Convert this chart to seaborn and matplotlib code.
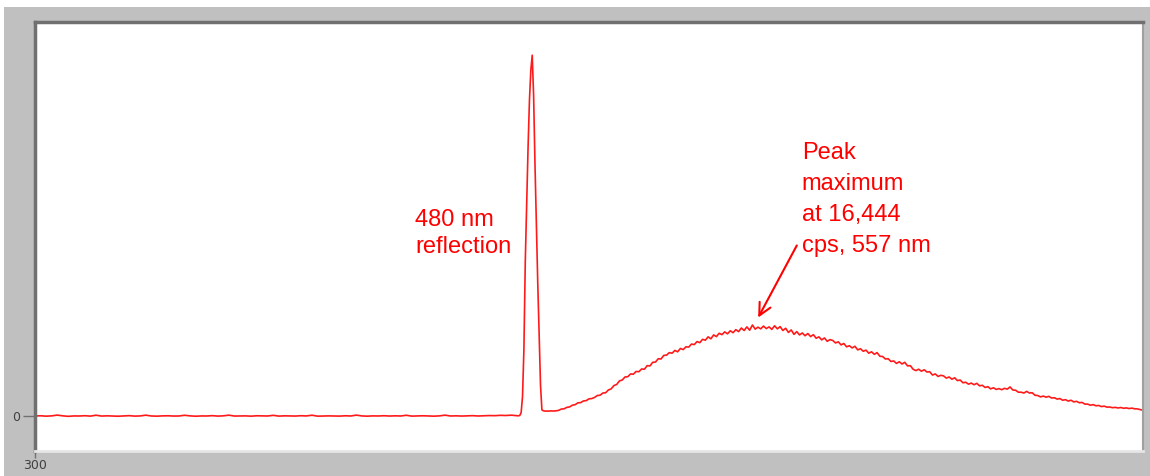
import numpy as np
import pandas as pd
import matplotlib
matplotlib.use("Agg")
import matplotlib.pyplot as plt
from matplotlib.patches import Rectangle
import seaborn as sns

# ---------------- data ----------------
# wavelength grids (nm)
wl_baseline = np.arange(300, 474, 2)          # 300 .. 472
wl_peak = np.arange(474, 486.5, 0.5)          # 474 .. 486
wl_broad = np.arange(487, 701, 1)             # 487 .. 700

# intensities (cps)
cps_baseline = [
    0, 40, -30, 20, 160, 30, -60, 10, 0, 50,
    -20, 140, -10, 30, 0, -40, 20, 60, -20, 10,
    150, 0, -30, 20, 40, -10, 0, 130, 20, -40,
    10, 0, 60, -20, 30, 150, -10, 0, 20, -30,
    40, 10, 0, 120, -20, 30, 0, -10, 50, 10,
    140, -30, 0, 20, 10, -20, 40, 0, 160, 10,
    -30, 20, 0, 50, -10, 30, 0, 130, -20, 10,
    40, 0, -30, 20, 150, 0, 30, -10, 20, 60,
    0, 40, 80, 60, 120, 90, 150,
]
cps_peak = [
    60, 30, 100, 600, 3500, 12000, 28000, 38500, 48500, 57000,
    62500, 65200, 58000, 45500, 34500, 24000, 15000, 5500, 1100, 950,
    900, 880, 900, 880, 920,
]
cps_broad = [
    900,
    930, 1010, 1250, 1300, 1560, 1640, 1950, 2050, 2380, 2420,
    2720, 2780, 3100, 3150, 3350, 3700, 3760, 4150, 4200, 4700,
    4900, 5500, 5700, 6350, 6500, 7050, 7100, 7600, 7550, 8050,
    8000, 8500, 8450, 9100, 9050, 9700, 9750, 10350, 10300, 10950,
    11000, 11450, 11350, 11850, 11600, 12200, 12000, 12500, 12450, 13000,
    12900, 13450, 13250, 13850, 13700, 14300, 13950, 14650, 14350, 14950,
    14700, 15200, 14850, 15400, 15050, 15600, 15250, 15900, 15450, 16100,
    15500, 16444, 15700, 16050, 15750, 16250, 15800, 16100, 15650, 16300,
    15750, 16150, 15450, 15850, 15100, 15550, 14750, 15250, 14650, 15000,
    14500, 14900, 14350, 14700, 14050, 14300, 13750, 14100, 13500, 13800,
    13650, 13200, 13400, 12850, 13100, 12500, 12700, 12300, 12600, 11950,
    12150, 11700, 11900, 11350, 11600, 11150, 11450, 10800, 10750, 10300,
    10350, 9850, 9950, 9500, 9800, 9400, 9700, 9050, 9100, 8450,
    8200, 8450, 8100, 8350, 7950, 8000, 7400, 7600, 7150, 7350,
    7250, 6850, 7050, 6650, 6900, 6400, 6500, 6000, 6100, 5750,
    5950, 5650, 5900, 5450, 5550, 5150, 5300, 4900, 5100, 4800,
    4950, 4750, 5000, 4850, 5250, 4700, 4650, 4300, 4300, 4150,
    4450, 4150, 4200, 3750, 3700, 3450, 3600, 3400, 3550, 3250,
    3300, 3050, 3150, 2850, 2950, 2700, 2850, 2550, 2650, 2400,
    2450, 2150, 2150, 1950, 2050, 1850, 1900, 1700, 1780, 1600,
    1620, 1500, 1560, 1450, 1530, 1400, 1460, 1350, 1420, 1300,
    1280, 1150, 1050,
]

x_ticks = [300]
x_tick_labels = ["300"]
y_ticks = [0]
y_tick_labels = ["0"]

label_reflection = "480 nm\nreflection"
label_peak = "Peak\nmaximum\nat 16,444\ncps, 557 nm"

# ---------------- figure ----------------
df = pd.DataFrame({
    "wavelength": np.concatenate([wl_baseline, wl_peak, wl_broad]),
    "cps": np.concatenate([cps_baseline, cps_peak, cps_broad]).astype(float),
})

W, H = 1150, 476
fig = plt.figure(figsize=(W / 100, H / 100), dpi=100)
fig.patch.set_facecolor("white")
fig.add_artist(Rectangle((4 / W, 0), 1 - 4 / W, (H - 7) / H,
                         transform=fig.transFigure, facecolor="#c0c0c0",
                         edgecolor="none", zorder=-10))

ax = fig.add_axes([35 / W, (H - 451) / H, 1108 / W, 429 / H])
ax.set_facecolor("white")

sns.lineplot(data=df, x="wavelength", y="cps", ax=ax, color="#ff1a1a",
             linewidth=1.2, estimator=None, sort=False)

ax.set_xlim(300, 700)
ax.set_ylim(-6325, 71196)
ax.set_xlabel("")
ax.set_ylabel("")
ax.set_xticks(x_ticks)
ax.set_xticklabels(x_tick_labels)
ax.set_yticks(y_ticks)
ax.set_yticklabels(y_tick_labels)
ax.tick_params(axis="y", direction="out", length=9, width=1, color="#707070",
               labelsize=9, labelcolor="#404040", pad=2)
ax.tick_params(axis="x", direction="out", length=5, width=1, color="#707070",
               labelsize=9, labelcolor="#404040", pad=1)

for side in ["left", "top"]:
    ax.spines[side].set_color("#707070")
    ax.spines[side].set_linewidth(2.5)
ax.spines["right"].set_color("#a0a0a0")
ax.spines["right"].set_linewidth(1.5)
ax.spines["bottom"].set_color("#e6e6e6")
ax.spines["bottom"].set_linewidth(2.0)

txt_font = dict(family=["Liberation Sans", "DejaVu Sans"], size=17, color="red")
# va="baseline" on multi-line text anchors the last line's baseline
ax.text(437.2, 29454, label_reflection, ha="left", va="baseline",
        linespacing=1.3, **txt_font)
ax.text(576.8, 29689, label_peak, ha="left", va="baseline",
        linespacing=1.52, **txt_font)
ax.annotate("", xy=(560.6, 17347), xytext=(575.5, 31261),
            arrowprops=dict(arrowstyle="->", color="red", lw=1.5,
                            mutation_scale=22))

fig.savefig("out.png", dpi=100, facecolor=fig.get_facecolor())
